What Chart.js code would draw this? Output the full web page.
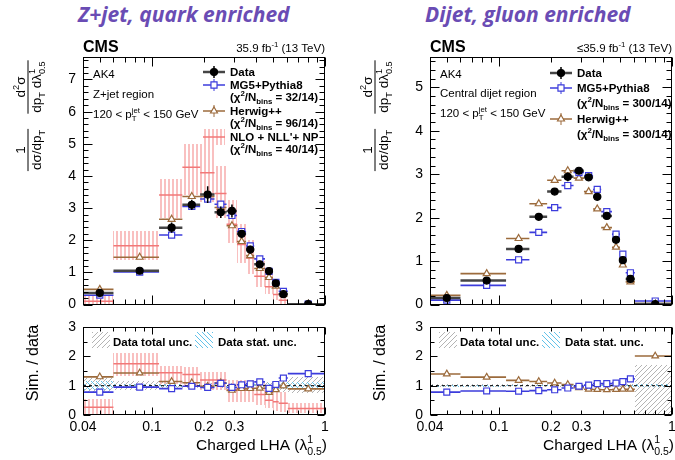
<!DOCTYPE html>
<html>
<head>
<meta charset="utf-8">
<script src="https://cdn.jsdelivr.net/npm/chart.js@4.4.1/dist/chart.umd.min.js"></script>
<style>
html,body{margin:0;padding:0;background:#fff;width:675px;height:460px;overflow:hidden;position:relative;}
canvas{position:absolute;}
.ttl{position:absolute;top:4px;font-family:'Open Sans',sans-serif;font-weight:700;font-style:italic;font-size:21px;line-height:21px;color:#6a4cb4;white-space:nowrap;}
</style>
</head>
<body>
<div class="ttl" style="left:78px">Z+jet, quark enriched</div>
<div class="ttl" style="left:425px">Dijet, gluon enriched</div>
<canvas id="zjMain" width="340" height="310" style="left:0;top:0;width:340px;height:310px"></canvas>
<canvas id="zjRatio" width="340" height="150" style="left:0;top:310px;width:340px;height:150px"></canvas>
<canvas id="djMain" width="340" height="310" style="left:347px;top:0;width:340px;height:310px"></canvas>
<canvas id="djRatio" width="340" height="150" style="left:347px;top:310px;width:340px;height:150px"></canvas>
<script>
// ---------------- DATA ----------------
const binEdges   = [0.04, 0.06, 0.11, 0.15, 0.19, 0.23, 0.27, 0.31, 0.35, 0.39, 0.45, 0.50, 0.54, 0.61, 1.0];
const binCenters = [0.05, 0.085, 0.13, 0.17, 0.21, 0.25, 0.29, 0.33, 0.37, 0.42, 0.475, 0.52, 0.575, 0.8];
const xTickLabels = [0.04, 0.1, 0.2, 0.3, 1];
const xMajorTicks = [0.1, 1];
const xMinorTicks = [0.05, 0.06, 0.07, 0.08, 0.09, 0.2, 0.3, 0.4, 0.5, 0.6, 0.7, 0.8, 0.9];
const zjYTicks = [0, 1, 2, 3, 4, 5, 6, 7];
const djYTicks = [0, 1, 2, 3, 4, 5];
const ratioYTicks = [0, 1, 2, 3];

// Z+jet (quark enriched)
const zjData    = [0.36, 1.05, 2.39, 3.10, 3.42, 2.87, 2.91, 2.20, 1.71, 1.25, 1.04, 0.66, 0.32, 0.01];
const zjDataErr = [0.10, 0.07, 0.16, 0.16, 0.26, 0.18, 0.20, 0.12, 0.12, 0.10, 0.07, 0.06, 0.05, 0.01];
const zjMG5     = [0.29, 1.01, 2.16, 3.05, 3.28, 3.12, 2.77, 2.27, 1.82, 1.42, 1.03, 0.69, 0.41, 0.015];
const zjHerwig  = [0.47, 1.47, 2.65, 3.36, 3.36, 3.02, 2.45, 1.96, 1.52, 1.12, 0.84, 0.57, 0.32, 0.01];
const zjNLO     = [0.10, 1.83, 3.41, 4.27, 4.10, 3.45, 2.50, 1.87, 1.45, 0.88, 0.55, 0.31, 0.13, 0.003];
const zjNLOLo   = [0.00, 1.40, 2.70, 3.40, 3.20, 2.70, 1.90, 1.30, 0.95, 0.55, 0.33, 0.14, 0.02, 0.00];
const zjNLOHi   = [0.25, 2.28, 3.90, 5.00, 5.00, 4.30, 3.25, 2.50, 2.00, 1.35, 0.95, 0.58, 0.28, 0.02];
const zjRatioMG5    = [0.78, 0.95, 0.90, 0.98, 0.94, 1.08, 0.94, 1.03, 1.06, 1.13, 0.91, 1.04, 1.26, 1.41];
const zjRatioHerwig = [1.30, 1.43, 1.14, 1.10, 0.98, 1.10, 0.84, 0.90, 0.90, 0.91, 0.77, 0.86, 0.99, 0.89];
const zjRatioNLO    = [0.26, 1.75, 1.44, 1.38, 1.19, 1.19, 0.85, 0.85, 0.85, 0.70, 0.50, 0.45, 0.40, 0.22];
const zjRatioNLOLo  = [0.00, 1.32, 1.05, 1.00, 0.85, 0.85, 0.45, 0.45, 0.45, 0.35, 0.25, 0.15, 0.10, 0.08];
const zjRatioNLOHi  = [0.55, 2.13, 1.68, 1.62, 1.45, 1.45, 1.20, 1.20, 1.18, 1.10, 1.00, 0.85, 0.80, 0.40];
const zjTotLo  = [0.78, 0.85, 0.88, 0.92, 0.90, 0.90, 0.90, 0.92, 0.90, 0.88, 0.86, 0.84, 0.80, 0.75];
const zjTotHi  = [1.25, 1.15, 1.12, 1.08, 1.10, 1.10, 1.10, 1.08, 1.10, 1.12, 1.14, 1.16, 1.22, 1.30];
const zjStatLo = [0.85, 0.93, 0.94, 0.95, 0.95, 0.94, 0.94, 0.95, 0.94, 0.93, 0.92, 0.90, 0.88, 0.88];
const zjStatHi = [1.15, 1.07, 1.06, 1.05, 1.05, 1.06, 1.06, 1.05, 1.06, 1.07, 1.08, 1.10, 1.12, 1.12];

// Dijet (gluon enriched)
const djData    = [0.15, 0.55, 1.28, 2.02, 2.60, 2.94, 3.08, 2.93, 2.48, 2.04, 1.49, 1.02, 0.59, 0.01];
const djDataErr = [0.02, 0.03, 0.03, 0.04, 0.05, 0.10, 0.08, 0.07, 0.08, 0.07, 0.06, 0.05, 0.04, 0.005];
const djMG5     = [0.10, 0.44, 1.03, 1.66, 2.23, 2.74, 3.04, 2.97, 2.65, 2.14, 1.62, 1.16, 0.73, 0.08];
const djHerwig  = [0.21, 0.71, 1.52, 2.32, 2.86, 3.08, 2.91, 2.60, 2.20, 1.77, 1.32, 0.91, 0.52, 0.02];
const djRatioMG5    = [0.78, 0.82, 0.81, 0.83, 0.86, 0.92, 0.98, 1.02, 1.07, 1.07, 1.09, 1.14, 1.23, 8.0];
const djRatioHerwig = [1.40, 1.29, 1.18, 1.14, 1.09, 1.04, 0.93, 0.88, 0.87, 0.86, 0.87, 0.88, 0.88, 2.01];
const djTotLo  = [0.94, 0.95, 0.96, 0.96, 0.96, 0.96, 0.96, 0.96, 0.96, 0.96, 0.96, 0.95, 0.94, 0.00];
const djTotHi  = [1.06, 1.05, 1.04, 1.04, 1.04, 1.04, 1.04, 1.04, 1.04, 1.04, 1.04, 1.05, 1.06, 1.72];
const djStatLo = [0.97, 0.97, 0.98, 0.98, 0.98, 0.98, 0.98, 0.98, 0.98, 0.98, 0.98, 0.97, 0.97, 0.95];
const djStatHi = [1.03, 1.03, 1.02, 1.02, 1.02, 1.02, 1.02, 1.02, 1.02, 1.02, 1.02, 1.03, 1.03, 1.05];

// ---------------- STYLE ----------------
const FONT = "'Liberation Sans', Arial, Helvetica, sans-serif";
const C_MG = '#3c3cdc', C_HW = '#9c6b3c', C_NLO = '#f27878', C_DLINE = '#454545';
Chart.defaults.font.family = FONT;
Chart.defaults.color = '#000';

function font(s, b) { return (b ? 'bold ' : '') + s + 'px ' + FONT; }
function norm(parts) { return parts.map(p => typeof p === 'string' ? {t: p} : p); }
function richWidth(ctx, parts, s, b) {
  let w = 0;
  for (const p of norm(parts)) {
    ctx.font = font(s, b); if (p.t) w += ctx.measureText(p.t).width;
    ctx.font = font(s * 0.68, b);
    w += Math.max(p.sub ? ctx.measureText(p.sub).width : 0, p.sup ? ctx.measureText(p.sup).width : 0);
  }
  return w;
}
function drawRich(ctx, x, y, parts, s, b, align) {
  const w = richWidth(ctx, parts, s, b);
  if (align === 'right') x -= w; else if (align === 'center') x -= w / 2;
  ctx.textAlign = 'left'; ctx.textBaseline = 'alphabetic'; ctx.fillStyle = '#000';
  for (const p of norm(parts)) {
    ctx.font = font(s, b);
    if (p.t) { ctx.fillText(p.t, x, y); x += ctx.measureText(p.t).width; }
    ctx.font = font(s * 0.68, b);
    let a = 0, c = 0;
    if (p.sub) { ctx.fillText(p.sub, x, y + s * 0.3); a = ctx.measureText(p.sub).width; }
    if (p.sup) { ctx.fillText(p.sup, x, y - s * 0.42); c = ctx.measureText(p.sup).width; }
    x += Math.max(a, c);
  }
}

function makePattern(kind) {
  const c = document.createElement('canvas');
  const g = c.getContext('2d');
  if (kind === 'vert') {
    c.width = 4; c.height = 4;
    g.fillStyle = 'rgb(249,192,192)';
    g.fillRect(0, 0, 2, 4);
  } else {
    const n = 5; c.width = n; c.height = n;
    g.fillStyle = kind === 'gray' ? 'rgb(180,180,180)' : 'rgb(98,194,234)';
    for (let i = 0; i < n; i++) {
      if (kind === 'gray') g.fillRect(n - 1 - i, i, 1, 1);
      else g.fillRect(i, i, 1, 1);
    }
  }
  return c.getContext('2d').createPattern(c, 'repeat');
}
const PAT_VERT = makePattern('vert'), PAT_GRAY = makePattern('gray'), PAT_BLUE = makePattern('blue');

// ---------------- DATASET BUILDERS ----------------
function steps(vals) { const d = []; vals.forEach((v, i) => { d.push({x: binEdges[i], y: v}, {x: binEdges[i + 1], y: v}, {x: binEdges[i + 1], y: null}); }); return d; }
function pts(vals) { return vals.map((v, i) => ({x: binCenters[i], y: v})); }
function errs(vals, e) { const d = []; vals.forEach((v, i) => { d.push({x: binCenters[i], y: v - e[i]}, {x: binCenters[i], y: v + e[i]}, {x: binCenters[i], y: null}); }); return d; }
function lineDs(data, color, w, order, dash) { return {data, showLine: true, borderColor: color, borderWidth: w, pointRadius: 0, order, borderDash: dash || [], spanGaps: false, tension: 0}; }
function markDs(data, style, border, fill, r, order) { return {data, showLine: false, pointStyle: style, pointRadius: r, pointBorderColor: border, pointBackgroundColor: fill, pointBorderWidth: 1.2, borderColor: border, backgroundColor: fill, order}; }

// ---------------- PLUGINS ----------------
function bandPlugin(bands) {
  return {id: 'bands', beforeDatasetsDraw(chart) {
    const {ctx, chartArea: a, scales: {x, y}} = chart;
    ctx.save(); ctx.beginPath(); ctx.rect(a.left, a.top, a.right - a.left, a.bottom - a.top); ctx.clip();
    for (const b of bands) {
      ctx.fillStyle = b.pattern;
      b.lo.forEach((lo, i) => {
        const x0 = Math.round(x.getPixelForValue(binEdges[i])), x1 = Math.round(x.getPixelForValue(binEdges[i + 1]));
        const y0 = Math.round(y.getPixelForValue(b.hi[i])), y1 = Math.round(y.getPixelForValue(lo));
        ctx.fillRect(x0, y0, x1 - x0, y1 - y0);
      });
    }
    ctx.restore();
  }};
}
function framePlugin(cfg) {
  return {id: 'frame', afterDatasetsDraw(chart) {
    const {ctx, chartArea: a, scales: {x, y}} = chart;
    ctx.save();
    ctx.strokeStyle = '#000'; ctx.lineWidth = 1;
    const L = Math.round(a.left) + 0.5, R = Math.round(a.right) - 0.5, T = Math.round(a.top) + 0.5, B = Math.round(a.bottom) - 0.5;
    ctx.strokeRect(L, T, R - L, B - T);
    ctx.beginPath();
    for (const v of xMajorTicks.concat(xMinorTicks)) {
      const len = xMajorTicks.includes(v) ? cfg.xMaj : cfg.xMin;
      const px = Math.round(x.getPixelForValue(v)) + 0.5;
      ctx.moveTo(px, B); ctx.lineTo(px, B - len); ctx.moveTo(px, T); ctx.lineTo(px, T + len);
    }
    for (let v = 0; v <= cfg.yMax + 1e-9; v += cfg.yMinorStep) {
      const major = Math.abs(v - Math.round(v)) < 1e-6;
      const len = major ? cfg.yMaj : cfg.yMin;
      const py = Math.round(y.getPixelForValue(v)) + 0.5;
      if (py < T) continue;
      ctx.moveTo(L, py); ctx.lineTo(L + len, py); ctx.moveTo(R, py); ctx.lineTo(R - len, py);
    }
    ctx.stroke();
    if (cfg.draw) cfg.draw(ctx, a);
    ctx.restore();
  }};
}

// ---------------- TEXT / LEGEND DRAWERS ----------------
function fraction(ctx, cu, num, den, s) {
  const wn = richWidth(ctx, num, s), wd = richWidth(ctx, den, s), w = Math.max(wn, wd) + 2;
  ctx.beginPath(); ctx.moveTo(cu - w / 2, 0); ctx.lineTo(cu + w / 2, 0); ctx.lineWidth = 1; ctx.strokeStyle = '#000'; ctx.stroke();
  drawRich(ctx, cu - wn / 2, -3, num, s);
  drawRich(ctx, cu - wd / 2, s - 0.5, den, s);
}
function drawMainYTitle(ctx) {
  ctx.save(); ctx.translate(28, 0); ctx.rotate(-Math.PI / 2);
  fraction(ctx, -150, ['1'], [{t: 'dσ/dp', sub: 'T'}], 13.5);
  fraction(ctx, -87, [{t: 'd', sup: '2'}, 'σ'], [{t: 'dp', sub: 'T'}, {t: ' dλ', sub: '0.5', sup: '1'}], 13.5);
  ctx.restore();
}
function legendLine(ctx, a, y, color, w, dx) { ctx.beginPath(); ctx.strokeStyle = color; ctx.lineWidth = w; ctx.moveTo(a.left + dx, y); ctx.lineTo(a.left + dx + 22, y); ctx.stroke(); }
function legendMark(ctx, x, y, style, border, fill, r) {
  ctx.strokeStyle = border; ctx.fillStyle = fill; ctx.lineWidth = 1.2;
  Chart.helpers.drawPoint(ctx, {pointStyle: style, rotation: 0, radius: r, borderWidth: 1.2}, x, y);
}
function legendErr(ctx, x, y, h, color, w) { ctx.beginPath(); ctx.strokeStyle = color; ctx.lineWidth = w; ctx.moveTo(x, y - h); ctx.lineTo(x, y + h); ctx.stroke(); }

function drawMainTexts(P) {
  return function (ctx, a) {
    ctx.fillStyle = '#000';
    ctx.font = font(16, true); ctx.textAlign = 'left'; ctx.textBaseline = 'alphabetic';
    ctx.fillText('CMS', a.left, 52);
    drawRich(ctx, a.right, 52, [{t: P.lumiPrefix + '35.9 fb', sup: '-1'}, ' (13 TeV)'], 11.5, false, 'right');
    drawRich(ctx, a.left + 10, P.txtY[0], ['AK4'], 11.5);
    drawRich(ctx, a.left + 10, P.txtY[1], [P.region], 11.5);
    drawRich(ctx, a.left + 10, P.txtY[2], [{t: '120 < p', sub: 'T', sup: 'jet'}, ' < 150 GeV'], 11.5);
    const dx = 120, mx = a.left + dx + 11, tx = a.left + dx + 27;
    for (const e of P.legend) {
      const my = e.y - 4;
      if (e.kind === 'data') { legendLine(ctx, a, my, C_DLINE, 2.5, dx); legendErr(ctx, mx, my, 6, '#000', 1.5); legendMark(ctx, mx, my, 'circle', '#000', '#000', 3.5); }
      if (e.kind === 'mg') { legendLine(ctx, a, my, C_MG, 1.5, dx); legendErr(ctx, mx, my, 6, C_MG, 1); legendMark(ctx, mx, my, 'rect', C_MG, '#fff', 4.3); }
      if (e.kind === 'hw') { legendLine(ctx, a, my, C_HW, 1.5, dx); legendErr(ctx, mx, my, 6, C_HW, 1); legendMark(ctx, mx, my, 'triangle', C_HW, '#fff', 4); }
      if (e.kind === 'nlo') { ctx.fillStyle = PAT_VERT; ctx.fillRect(a.left + dx, my - 8, 22, 16); legendLine(ctx, a, my, C_NLO, 1.5, dx); }
      if (e.text) drawRich(ctx, tx, e.y, e.text, 11.5, true);
    }
    drawMainYTitle(ctx);
  };
}
function drawRatioTexts(ctx, a) {
  ctx.fillStyle = PAT_GRAY; ctx.fillRect(a.left + 9, 22, 18, 16);
  drawRich(ctx, a.left + 30, 36, ['Data total unc.'], 11.5, true);
  ctx.fillStyle = PAT_BLUE; ctx.fillRect(a.left + 112, 22, 18, 16);
  drawRich(ctx, a.left + 135, 36, ['Data stat. unc.'], 11.5, true);
  drawRich(ctx, a.right + 2, 140, [{t: 'Charged LHA (λ', sub: '0.5', sup: '1'}, ')'], 15.5, false, 'right');
  ctx.save(); ctx.translate(38, 53); ctx.rotate(-Math.PI / 2);
  ctx.font = font(16, false); ctx.fillStyle = '#000'; ctx.textAlign = 'center'; ctx.textBaseline = 'alphabetic';
  ctx.fillText('Sim. / data', 0, 0);
  ctx.restore();
}

// ---------------- CHART FACTORIES ----------------
function yScale(max, ticks, width) {
  return {type: 'linear', min: 0, max, grid: {display: false, drawTicks: false}, border: {display: false},
    afterBuildTicks: s => { s.ticks = ticks.map(v => ({value: v})); },
    afterFit: s => { s.width = width; s.paddingTop = 0; s.paddingBottom = 0; },
    ticks: {padding: 7, font: {size: 14}, color: '#000', callback: v => String(v)}};
}
function makeMain(id, P) {
  const ds = [];
  if (P.nlo) ds.push(lineDs(steps(P.nlo), C_NLO, 1.5, 9));
  ds.push(lineDs(steps(P.herwig), C_HW, 1.6, 8));
  ds.push(lineDs(steps(P.mg5), C_MG, 1.6, 7));
  ds.push(lineDs(steps(P.data), C_DLINE, 2.5, 6));
  ds.push(markDs(pts(P.herwig), 'triangle', C_HW, '#fff', 4, 4));
  ds.push(markDs(pts(P.mg5), 'rect', C_MG, '#fff', 4.3, 3));
  ds.push(lineDs(errs(P.data, P.dataErr), '#000', 1.5, 1));
  ds.push(markDs(pts(P.data), 'circle', '#000', '#000', 3.5, 0));
  const bands = P.nlo ? [{lo: P.nloLo, hi: P.nloHi, pattern: PAT_VERT}] : [];
  return new Chart(document.getElementById(id), {
    type: 'scatter', data: {datasets: ds},
    options: {responsive: false, animation: false, events: [],
      layout: {padding: {left: 0, right: 15, top: 57, bottom: 3}},
      plugins: {legend: {display: false}, tooltip: {enabled: false}},
      scales: {x: {type: 'logarithmic', min: 0.04, max: 1, display: false}, y: yScale(P.yMax, P.yTicks, 83)}},
    plugins: [bandPlugin(bands), framePlugin({xMaj: 9, xMin: 5, yMaj: 9, yMin: 5, yMax: P.yMax, yMinorStep: 0.2, draw: drawMainTexts(P)})]
  });
}
function makeRatio(id, P) {
  const ds = [];
  if (P.rNLO) ds.push(lineDs(steps(P.rNLO), C_NLO, 1.5, 9));
  ds.push(lineDs([{x: 0.04, y: 1}, {x: 1, y: 1}], '#000', 1, 8, [3, 3]));
  ds.push(lineDs(steps(P.rHerwig), C_HW, 1.6, 7));
  ds.push(lineDs(steps(P.rMG5), C_MG, 1.6, 6));
  ds.push(markDs(pts(P.rHerwig), 'triangle', C_HW, '#fff', 3.8, 4));
  ds.push(markDs(pts(P.rMG5), 'rect', C_MG, '#fff', 4.2, 3));
  const bands = [{lo: P.totLo, hi: P.totHi, pattern: PAT_GRAY}, {lo: P.statLo, hi: P.statHi, pattern: PAT_BLUE}];
  if (P.rNLO) bands.push({lo: P.rNLOLo, hi: P.rNLOHi, pattern: PAT_VERT});
  return new Chart(document.getElementById(id), {
    type: 'scatter', data: {datasets: ds},
    options: {responsive: false, animation: false, events: [],
      layout: {padding: {left: 0, right: 15, top: 17, bottom: 0}},
      plugins: {legend: {display: false}, tooltip: {enabled: false}},
      scales: {
        x: {type: 'logarithmic', min: 0.04, max: 1, grid: {display: false, drawTicks: false}, border: {display: false},
          afterBuildTicks: s => { s.ticks = xTickLabels.map(v => ({value: v})); },
          afterFit: s => { s.height = 45; s.paddingLeft = 0; s.paddingRight = 0; },
          ticks: {padding: 4, font: {size: 14}, color: '#000', autoSkip: false, maxRotation: 0, callback: v => String(v)}},
        y: yScale(3, ratioYTicks, 83)}},
    plugins: [bandPlugin(bands), framePlugin({xMaj: 7, xMin: 4, yMaj: 7, yMin: 4, yMax: 3, yMinorStep: 0.5, draw: drawRatioTexts})]
  });
}

// ---------------- BUILD ----------------
makeMain('zjMain', {data: zjData, dataErr: zjDataErr, mg5: zjMG5, herwig: zjHerwig, nlo: zjNLO, nloLo: zjNLOLo, nloHi: zjNLOHi,
  yMax: 7.7, yTicks: zjYTicks, lumiPrefix: '', region: 'Z+jet region', txtY: [78, 98, 118],
  legend: [
    {kind: 'data', y: 76, text: ['Data']},
    {kind: 'mg', y: 89, text: ['MG5+Pythia8']},
    {y: 101, text: [{t: '(χ', sup: '2'}, {t: '/N', sub: 'bins'}, ' = 32/14)']},
    {kind: 'hw', y: 115, text: ['Herwig++']},
    {y: 127, text: [{t: '(χ', sup: '2'}, {t: '/N', sub: 'bins'}, ' = 96/14)']},
    {kind: 'nlo', y: 141, text: ["NLO + NLL'+ NP"]},
    {y: 153, text: [{t: '(χ', sup: '2'}, {t: '/N', sub: 'bins'}, ' = 40/14)']}
  ]});
makeRatio('zjRatio', {rMG5: zjRatioMG5, rHerwig: zjRatioHerwig, rNLO: zjRatioNLO, rNLOLo: zjRatioNLOLo, rNLOHi: zjRatioNLOHi,
  totLo: zjTotLo, totHi: zjTotHi, statLo: zjStatLo, statHi: zjStatHi});
makeMain('djMain', {data: djData, dataErr: djDataErr, mg5: djMG5, herwig: djHerwig,
  yMax: 5.7, yTicks: djYTicks, lumiPrefix: '≤', region: 'Central dijet region', txtY: [78, 97, 117],
  legend: [
    {kind: 'data', y: 77, text: ['Data']},
    {kind: 'mg', y: 92, text: ['MG5+Pythia8']},
    {y: 107, text: [{t: '(χ', sup: '2'}, {t: '/N', sub: 'bins'}, ' = 300/14)']},
    {kind: 'hw', y: 123, text: ['Herwig++']},
    {y: 138, text: [{t: '(χ', sup: '2'}, {t: '/N', sub: 'bins'}, ' = 300/14)']}
  ]});
makeRatio('djRatio', {rMG5: djRatioMG5, rHerwig: djRatioHerwig,
  totLo: djTotLo, totHi: djTotHi, statLo: djStatLo, statHi: djStatHi});
</script>
</body>
</html>
